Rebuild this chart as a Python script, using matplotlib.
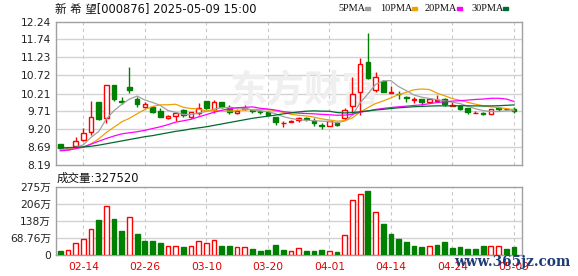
import numpy as np
import pandas as pd
import matplotlib
matplotlib.use('Agg')
import matplotlib.pyplot as plt

plt.rcParams['font.family'] = ['DejaVu Sans', 'Noto Sans CJK SC']

# Datos (K diario, 60 sesiones)
dates = ['02-11', '02-12', '02-13', '02-14', '02-17', '02-18', '02-19', '02-20', '02-21', '02-24',
         '02-25', '02-26', '02-27', '02-28', '03-03', '03-04', '03-05', '03-06', '03-07', '03-10',
         '03-11', '03-12', '03-13', '03-14', '03-17', '03-18', '03-19', '03-20', '03-21', '03-24',
         '03-25', '03-26', '03-27', '03-28', '03-31', '04-01', '04-02', '04-03', '04-07', '04-08',
         '04-09', '04-10', '04-11', '04-14', '04-15', '04-16', '04-17', '04-18', '04-21', '04-22',
         '04-23', '04-24', '04-25', '04-28', '04-29', '04-30', '05-06', '05-07', '05-08', '05-09']

opens = [8.78, 8.63, 8.73, 8.90, 9.12, 9.97, 9.51, 10.45, 9.99, 10.40,
         10.05, 9.84, 9.84, 9.72, 9.51, 9.58, 9.75, 9.55, 9.67, 9.99,
         9.75, 9.97, 9.84, 9.65, 9.76, 9.74, 9.71, 9.69, 9.54, 9.37,
         9.41, 9.46, 9.53, 9.44, 9.32, 9.29, 9.38, 9.51, 9.87, 10.25,
         11.09, 10.31, 10.56, 10.23, 10.21, 10.11, 10.03, 10.05, 9.96, 10.01,
         10.05, 9.86, 9.87, 9.79, 9.66, 9.66, 9.62, 9.79, 9.78, 9.77]
highs = [8.79, 8.69, 8.97, 9.23, 10.00, 9.98, 10.46, 10.46, 10.12, 10.97,
         10.10, 9.97, 9.85, 9.79, 9.60, 9.66, 9.76, 9.69, 9.95, 10.00,
         10.03, 9.98, 9.89, 9.77, 9.89, 9.78, 9.74, 9.70, 9.55, 9.44,
         9.45, 9.56, 9.56, 9.51, 9.37, 9.44, 9.40, 9.79, 10.68, 11.21,
         11.93, 10.81, 10.60, 10.41, 10.29, 10.15, 10.12, 10.06, 10.07, 10.17,
         10.07, 9.97, 9.88, 9.80, 9.73, 9.70, 9.77, 9.80, 9.80, 9.82]
lows = [8.64, 8.60, 8.71, 8.88, 9.04, 9.47, 9.37, 10.00, 9.91, 10.23,
        9.84, 9.80, 9.65, 9.55, 9.50, 9.43, 9.54, 9.52, 9.60, 9.76,
        9.65, 9.81, 9.62, 9.64, 9.74, 9.67, 9.64, 9.59, 9.32, 9.27,
        9.40, 9.41, 9.44, 9.30, 9.21, 9.28, 9.30, 9.46, 9.65, 9.60,
        10.62, 10.24, 10.24, 10.22, 10.05, 9.97, 9.95, 9.89, 9.94, 9.99,
        9.87, 9.85, 9.75, 9.64, 9.65, 9.59, 9.62, 9.73, 9.75, 9.67]
closes = [8.66, 8.67, 8.87, 9.09, 9.56, 9.49, 10.45, 10.05, 9.97, 10.30,
          9.92, 9.90, 9.70, 9.56, 9.58, 9.65, 9.60, 9.68, 9.79, 9.80,
          9.97, 9.82, 9.68, 9.72, 9.79, 9.71, 9.68, 9.61, 9.40, 9.39,
          9.44, 9.53, 9.50, 9.37, 9.30, 9.42, 9.33, 9.75, 10.20, 11.04,
          10.66, 10.68, 10.26, 10.24, 10.19, 10.09, 10.06, 9.96, 10.05, 10.03,
          9.90, 9.88, 9.77, 9.68, 9.67, 9.63, 9.76, 9.77, 9.76, 9.71]
# volumen en unidades de 万
volumes = [17.4, 20.1, 48.3, 67.1, 107.3, 140.9, 197.2, 144.9, 96.6, 153.0,
           84.5, 56.4, 56.4, 49.6, 36.2, 38.9, 32.2, 38.9, 59.0, 48.3,
           63.0, 36.2, 36.2, 34.9, 34.9, 24.2, 17.4, 20.1, 40.3, 22.8,
           16.1, 30.9, 16.1, 16.1, 20.1, 18.8, 12.1, 80.5, 221.4, 245.5,
           257.6, 171.7, 126.1, 85.9, 64.4, 52.3, 36.2, 32.2, 36.2, 40.3,
           52.3, 28.2, 32.2, 24.2, 24.2, 36.2, 36.2, 38.9, 24.2, 32.752]

# tramo inicial de las medias moviles (depende de sesiones fuera de la ventana)
ma5_head = [8.63, 8.65, 8.69, 8.76]
ma10_head = [8.61, 8.63, 8.66, 8.69, 8.78, 8.93, 9.11, 9.26, 9.41]
ma20_head = [8.59, 8.61, 8.65, 8.70, 8.78, 8.86, 8.94, 9.01, 9.07, 9.10,
             9.13, 9.17, 9.22, 9.27, 9.33, 9.40, 9.44, 9.48, 9.55]
ma30_head = [8.67, 8.68, 8.69, 8.70, 8.72, 8.75, 8.79, 8.83, 8.87, 8.91,
             8.95, 8.99, 9.02, 9.06, 9.10, 9.14, 9.17, 9.21, 9.24, 9.27,
             9.31, 9.35, 9.39, 9.43, 9.47, 9.51, 9.54, 9.57, 9.60]

price_ticks = [8.19, 8.69, 9.20, 9.71, 10.21, 10.72, 11.23, 11.74, 12.24]
price_labels = ['8.19', '8.69', '9.20', '9.71', '10.21', '10.72', '11.23', '11.74', '12.24']
vol_ticks = [0, 687600, 1375200, 2062800, 2750400]
vol_labels = ['0', '68.76万', '138万', '206万', '275万']
date_ticks = ['02-14', '02-26', '03-10', '03-20', '04-01', '04-14', '04-24', '05-09']

RED = '#ff0000'
GREEN = '#008000'
GRID = '#d2d2d2'
BORDER = '#a0a0a0'

o = np.array(opens)
h = np.array(highs)
l = np.array(lows)
c = np.array(closes)
v = np.array(volumes) * 10000
x = np.arange(len(c))

s = pd.Series(c)
ma_cfg = [(5, ma5_head, '#a0a0a0'), (10, ma10_head, '#f0a000'),
          (20, ma20_head, '#ff00ff'), (30, ma30_head, '#006a30')]

W = 578
H = 276
fig = plt.figure(figsize=(W / 100, H / 100), dpi=100)
fig.patch.set_facecolor('white')

def px_axes(left, top, right, bottom):
    return fig.add_axes([left / W, 1 - bottom / H, (right - left) / W, (bottom - top) / H])

ax = px_axes(56, 21.7, 522, 165)
axv = px_axes(56, 186.7, 522, 255.3)

xmin, xmax = -0.55, 60.05
tick_idx = [dates.index(d) for d in date_ticks]

for a in (ax, axv):
    a.set_xlim(xmin, xmax)
    for sp in a.spines.values():
        sp.set_color(BORDER)
        sp.set_linewidth(1)
    for t in tick_idx:
        a.axvline(t, color='#c8c8c8', lw=0.8, ls=(0, (3, 3)), zorder=0)

# --- precios ---
ax.set_ylim(8.19, 12.24)
ax.set_yticks(price_ticks, price_labels)
for p in price_ticks[1:-1]:
    ax.axhline(p, color=GRID, lw=1, zorder=0)
ax.set_xticks([])
ax.tick_params(axis='y', length=0, pad=3.5, labelsize=7.7, labelcolor='#222222')

ax.text(0.535, 0.52, '东方财富', transform=ax.transAxes, fontsize=27, fontweight='bold',
        color='#efefef', ha='center', va='center', family='Noto Sans CJK SC', zorder=0)

up = c >= o
top = np.maximum(o, c)
bot = np.minimum(o, c)
body = np.maximum(top - bot, 0.004)
col = np.where(up, RED, GREEN)
ax.vlines(x, top, h, colors=col, lw=1, zorder=3)
ax.vlines(x, l, bot, colors=col, lw=1, zorder=3)
ax.bar(x, body, bottom=bot, width=0.6, color=np.where(up, 'white', GREEN),
       edgecolor=col, linewidth=1, zorder=4)

for n, head, color in ma_cfg:
    ma = s.rolling(n).mean().to_numpy()
    ma[:n - 1] = head
    ax.plot(x, ma, color=color, lw=0.9, zorder=5)

# --- volumen ---
vol_up = np.r_[c[0] > o[0], c[1:] > c[:-1]]
vcol = np.where(vol_up, RED, GREEN)
axv.set_ylim(0, 2750400)
axv.set_yticks(vol_ticks, vol_labels)
for t in vol_ticks[1:-1]:
    axv.axhline(t, color=GRID, lw=1, zorder=0)
axv.bar(x, v, width=0.62, color=np.where(vol_up, 'white', GREEN), edgecolor=vcol,
        linewidth=1, zorder=3)
axv.set_xticks(tick_idx, date_ticks)
axv.tick_params(axis='y', length=0, pad=3.5, labelsize=7.7, labelcolor='#222222')
axv.tick_params(axis='x', length=0, pad=4.5, labelsize=7.7, labelcolor='#e00000')

# --- textos de cabecera ---
fig.text(55 / W, 1 - 9 / H, '新 希 望[000876] 2025-05-09 15:00', fontsize=8.3,
         va='center', ha='left', color='#111111')
fig.text(57 / W, 1 - 178 / H, '成交量:' + str(int(round(volumes[-1] * 10000))), fontsize=8.3,
         va='center', ha='left', color='#111111')

legend = [('5PMA', 338, '#a0a0a0'), ('10PMA', 380, '#f0a000'),
          ('20PMA', 425, '#ff00ff'), ('30PMA', 471, '#006a30')]
for name, lx, color in legend:
    t = fig.text(lx / W, 1 - 8.5 / H, name, fontsize=7.4, family='Liberation Serif',
                 va='center', ha='left', color='#111111')
    wlen = 26 if len(name) == 4 else 31
    fig.patches.append(plt.Rectangle(((lx + wlen + 1) / W, 1 - 10 / H), 5 / W, 2.6 / H,
                                     transform=fig.transFigure, color=color))

# marca de agua inferior
fig.text(571 / W, 1 - 262 / H, 'www.365jz.com', fontsize=9.8, family='DejaVu Serif',
         fontweight='bold', color='#1e3c78', ha='right', va='center')

fig.savefig('out.png', dpi=100)
